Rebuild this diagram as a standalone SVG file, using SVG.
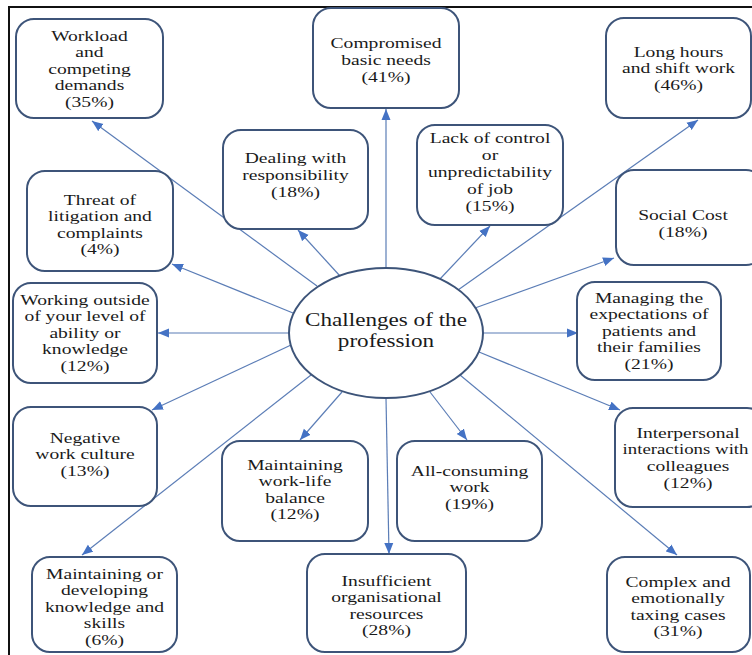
<svg xmlns="http://www.w3.org/2000/svg" width="752" height="655" viewBox="0 0 752 655">
<style>
.box{fill:#fff;stroke:#3d5479;stroke-width:2}
.t{font-family:"Liberation Serif","Times New Roman",serif;font-size:14.5px;fill:#1a1a1a;text-anchor:middle}
.tc{font-family:"Liberation Serif","Times New Roman",serif;font-size:18.5px;fill:#1a1a1a;text-anchor:middle}
.c{stroke:#5b7db6;stroke-width:1.2;fill:none;marker-end:url(#ah)}
</style>
<defs>
<marker id="ah" markerUnits="userSpaceOnUse" markerWidth="12" markerHeight="10" refX="11" refY="4.5" orient="auto" viewBox="0 0 12 9">
<path d="M0,0 L11,4.5 L0,9 z" fill="#4472c4"/>
</marker>
</defs>
<rect width="752" height="655" fill="#fff"/>
<path d="M9,655 V7 H752" fill="none" stroke="#111" stroke-width="2"/>

<g id="connectors">
<line class="c" x1="317" y1="286" x2="92" y2="121"/>
<line class="c" x1="386" y1="268" x2="386" y2="109"/>
<line class="c" x1="458" y1="290" x2="698" y2="120"/>
<line class="c" x1="340" y1="276" x2="298" y2="230"/>
<line class="c" x1="440" y1="279" x2="490" y2="226"/>
<line class="c" x1="475" y1="308" x2="614" y2="258"/>
<line class="c" x1="293" y1="313" x2="172" y2="264"/>
<line class="c" x1="289" y1="333" x2="158" y2="333"/>
<line class="c" x1="483" y1="333" x2="578" y2="333"/>
<line class="c" x1="479" y1="352" x2="620" y2="410"/>
<line class="c" x1="291" y1="345" x2="152" y2="410"/>
<line class="c" x1="460" y1="375" x2="677" y2="555"/>
<line class="c" x1="311" y1="375" x2="82" y2="555"/>
<line class="c" x1="342" y1="392" x2="300" y2="440"/>
<line class="c" x1="430" y1="392" x2="467" y2="440"/>
<line class="c" x1="386" y1="398" x2="389" y2="554"/>
</g>

<g id="center">
<ellipse cx="386" cy="333" rx="97" ry="65" fill="#fff" stroke="#3d5479" stroke-width="2"/>
<text class="tc" transform="translate(386 0) scale(1.25 1)"><tspan x="0" y="326">Challenges of the</tspan><tspan x="0" y="347">profession</tspan></text>
</g>

<g id="n_workload">
<rect class="box" x="16" y="19" width="147" height="99" rx="18"/>
<text class="t" transform="translate(89.5 0) scale(1.35 1)"><tspan x="0" y="41">Workload</tspan><tspan x="0" y="57.5">and</tspan><tspan x="0" y="74">competing</tspan><tspan x="0" y="90.5">demands</tspan><tspan x="0" y="107">(35%)</tspan></text>
</g>

<g id="n_compromised">
<rect class="box" x="313" y="8" width="146" height="100" rx="18"/>
<text class="t" transform="translate(386 0) scale(1.35 1)"><tspan x="0" y="48">Compromised</tspan><tspan x="0" y="65">basic needs</tspan><tspan x="0" y="82">(41%)</tspan></text>
</g>

<g id="n_longhours">
<rect class="box" x="606" y="18" width="145" height="100" rx="18"/>
<text class="t" transform="translate(678.5 0) scale(1.35 1)"><tspan x="0" y="57">Long hours</tspan><tspan x="0" y="73.5">and shift work</tspan><tspan x="0" y="90">(46%)</tspan></text>
</g>

<g id="n_dealing">
<rect class="box" x="223" y="130" width="145" height="99" rx="18"/>
<text class="t" transform="translate(295.5 0) scale(1.35 1)"><tspan x="0" y="163">Dealing with</tspan><tspan x="0" y="180">responsibility</tspan><tspan x="0" y="197">(18%)</tspan></text>
</g>

<g id="n_lack">
<rect class="box" x="417" y="125" width="146" height="100" rx="18"/>
<text class="t" transform="translate(490 0) scale(1.35 1)"><tspan x="0" y="143">Lack of control</tspan><tspan x="0" y="160">or</tspan><tspan x="0" y="177">unpredictability</tspan><tspan x="0" y="194">of job</tspan><tspan x="0" y="211">(15%)</tspan></text>
</g>

<g id="n_social">
<rect class="box" x="616" y="170" width="148" height="95" rx="18"/>
<text class="t" transform="translate(683 0) scale(1.35 1)"><tspan x="0" y="220">Social Cost</tspan><tspan x="0" y="237">(18%)</tspan></text>
</g>

<g id="n_threat">
<rect class="box" x="27" y="171" width="146" height="100" rx="18"/>
<text class="t" transform="translate(100 0) scale(1.35 1)"><tspan x="0" y="205">Threat of</tspan><tspan x="0" y="221.5">litigation and</tspan><tspan x="0" y="238">complaints</tspan><tspan x="0" y="254.5">(4%)</tspan></text>
</g>

<g id="n_working">
<rect class="box" x="13" y="283" width="144" height="100" rx="18"/>
<text class="t" transform="translate(85 0) scale(1.35 1)"><tspan x="0" y="305">Working outside</tspan><tspan x="0" y="321.5">of your level of</tspan><tspan x="0" y="338">ability or</tspan><tspan x="0" y="354.5">knowledge</tspan><tspan x="0" y="371">(12%)</tspan></text>
</g>

<g id="n_managing">
<rect class="box" x="577" y="282" width="144" height="98" rx="18"/>
<text class="t" transform="translate(649 0) scale(1.35 1)"><tspan x="0" y="303">Managing the</tspan><tspan x="0" y="319.5">expectations of</tspan><tspan x="0" y="336">patients and</tspan><tspan x="0" y="352.5">their families</tspan><tspan x="0" y="369">(21%)</tspan></text>
</g>

<g id="n_interpersonal">
<rect class="box" x="615" y="408" width="150" height="99" rx="18"/>
<text class="t" transform="translate(688 0) scale(1.35 1)"><tspan x="0" y="438">Interpersonal</tspan><tspan x="0" y="471">colleagues</tspan><tspan x="0" y="488">(12%)</tspan></text>
<text class="t" transform="translate(685.5 0) scale(1.3 1)"><tspan x="0" y="454.5">interactions with</tspan></text>
</g>

<g id="n_negative">
<rect class="box" x="13" y="407" width="144" height="99" rx="18"/>
<text class="t" transform="translate(85 0) scale(1.35 1)"><tspan x="0" y="443">Negative</tspan><tspan x="0" y="459.5">work culture</tspan><tspan x="0" y="476">(13%)</tspan></text>
</g>

<g id="n_worklife">
<rect class="box" x="222" y="441" width="146" height="100" rx="18"/>
<text class="t" transform="translate(295 0) scale(1.35 1)"><tspan x="0" y="470">Maintaining</tspan><tspan x="0" y="486.5">work-life</tspan><tspan x="0" y="503">balance</tspan><tspan x="0" y="519.5">(12%)</tspan></text>
</g>

<g id="n_allconsuming">
<rect class="box" x="397" y="441" width="145" height="100" rx="18"/>
<text class="t" transform="translate(469.5 0) scale(1.35 1)"><tspan x="0" y="476">All-consuming</tspan><tspan x="0" y="492.5">work</tspan><tspan x="0" y="509">(19%)</tspan></text>
</g>

<g id="n_insufficient">
<rect class="box" x="307" y="554" width="159" height="98" rx="18"/>
<text class="t" transform="translate(386.5 0) scale(1.35 1)"><tspan x="0" y="586">Insufficient</tspan><tspan x="0" y="602.5">organisational</tspan><tspan x="0" y="619">resources</tspan><tspan x="0" y="635.5">(28%)</tspan></text>
</g>

<g id="n_developing">
<rect class="box" x="32" y="557" width="145" height="95" rx="18"/>
<text class="t" transform="translate(104.5 0) scale(1.35 1)"><tspan x="0" y="579">Maintaining or</tspan><tspan x="0" y="595.5">developing</tspan><tspan x="0" y="612">knowledge and</tspan><tspan x="0" y="628.5">skills</tspan><tspan x="0" y="645">(6%)</tspan></text>
</g>

<g id="n_complex">
<rect class="box" x="607" y="557" width="143" height="95" rx="18"/>
<text class="t" transform="translate(678 0) scale(1.35 1)"><tspan x="0" y="587">Complex and</tspan><tspan x="0" y="603.5">emotionally</tspan><tspan x="0" y="620">taxing cases</tspan><tspan x="0" y="636.5">(31%)</tspan></text>
</g>
</svg>
